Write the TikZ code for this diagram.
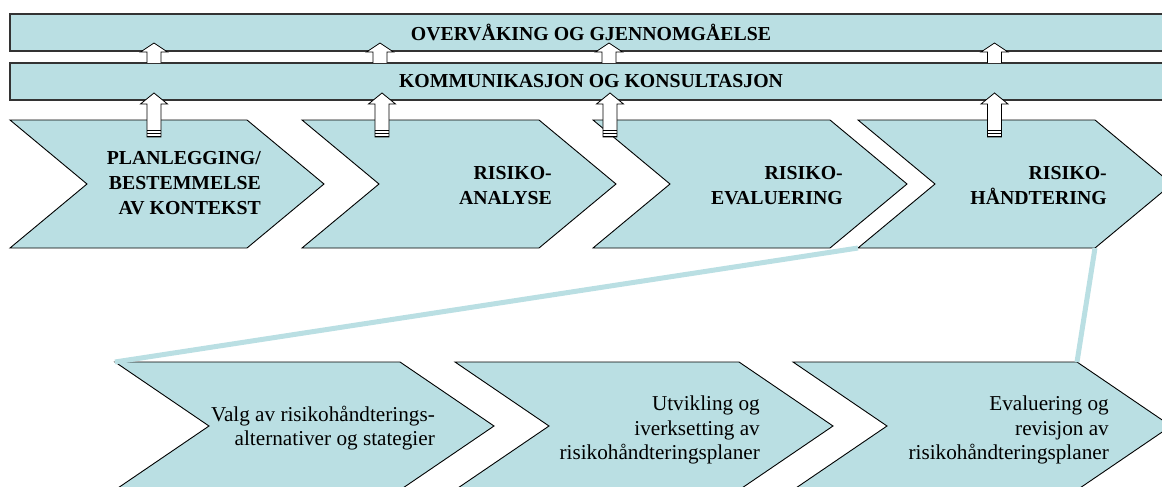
\documentclass[tikz,border=0pt]{standalone}
\usepackage{fontspec}
\setmainfont{Liberation Serif}
\definecolor{panel}{RGB}{186,223,227}

% chevron: name, left x, top y, body width, point depth, half height
\newcommand\stepchevron[6]{%
  \coordinate (#1-tl) at (#2,#3);
  \coordinate (#1-tr) at ({#2+#4},#3);
  \coordinate (#1-tip) at ({#2+#4+#5},{#3+#6});
  \coordinate (#1-br) at ({#2+#4},{#3+2*#6});
  \coordinate (#1-bl) at (#2,{#3+2*#6});
  \coordinate (#1-notch) at ({#2+#5},{#3+#6});
  \path[chevronshape] (#1-tl) -- (#1-tr) -- (#1-tip) -- (#1-br) -- (#1-bl) -- (#1-notch) -- cycle;
}
% small block arrow between the two bars, centred at x
\newcommand\baruparrow[1]{%
  \path[blockarrow] (#1-7,63) -- (#1-7,52) -- (#1-13.5,52) -- (#1,43)
    -- (#1+13.5,52) -- (#1+7,52) -- (#1+7,63);
}
% large block arrow from a step up to the lower bar, centred at x
\newcommand\stepuparrow[1]{%
  \path[blockarrow] (#1-7,137) -- (#1-7,104) -- (#1-13.5,104) -- (#1,93)
    -- (#1+13.5,104) -- (#1+7,104) -- (#1+7,137) -- cycle;
  \draw[line width=0.7pt] (#1-7,130.5) -- (#1+7,130.5);
  \draw[line width=1.3pt] (#1-7,133.6) -- (#1+7,133.6);
  \draw[line width=1.3pt] (#1-7,136.4) -- (#1+7,136.4);
}

\begin{document}
\begin{tikzpicture}[x=1pt,y=-1pt,
  chevronshape/.style={fill=panel, draw=black, line width=0.9pt, line join=miter},
  bar/.style={fill=panel, draw=black!80, line width=1.3pt, inner sep=0pt,
    font=\bfseries\fontsize{19.8}{23}\selectfont},
  steplabel/.style={font=\bfseries\fontsize{19.8}{25}\selectfont, align=right,
    inner sep=0pt, anchor=east},
  sublabel/.style={font=\fontsize{21.2}{24.5}\selectfont, align=right,
    inner sep=0pt, anchor=east},
  link/.style={draw=panel, line width=5pt},
  blockarrow/.style={fill=white, draw=black, line width=0.8pt, line join=miter}]
\useasboundingbox (0,0) rectangle (1162,487);
\clip (0,0) rectangle (1162,487);

% the two overarching bars
\node[bar, minimum width=1162pt, minimum height=37pt] (monitor) at (591,32.5)
  {OVERVÅKING OG GJENNOMGÅELSE};
\node[bar, minimum width=1162pt, minimum height=37pt] (consult) at (591,81.5)
  {KOMMUNIKASJON OG KONSULTASJON};

% main process steps
\stepchevron{plan}{10}{120}{237}{77}{64}
\stepchevron{analyse}{302}{120}{237}{77}{64}
\stepchevron{evaluate}{593}{120}{237}{77}{64}
\stepchevron{treat}{858}{120}{237}{77}{64}

\node[steplabel] (plan-text) at (261,183) {PLANLEGGING/\\BESTEMMELSE\\AV KONTEKST};
\node[steplabel] (analyse-text) at (552,186) {RISIKO-\\ANALYSE};
\node[steplabel] (evaluate-text) at (843,186) {RISIKO-\\EVALUERING};
\node[steplabel] (treat-text) at (1107,186) {RISIKO-\\HÅNDTERING};

% arrows up into the bars
\baruparrow{154}
\baruparrow{380}
\baruparrow{609}
\baruparrow{994.5}
\stepuparrow{154}
\stepuparrow{382}
\stepuparrow{610}
\stepuparrow{994.5}

% detail of risk treatment
\stepchevron{choose}{115}{362}{285}{94}{64}
\stepchevron{implement}{455}{362}{284}{94}{64}
\stepchevron{review}{793}{362}{284}{94}{64}

\node[sublabel] (choose-text) at (435,428)
  {Valg av risikohåndterings-\\alternativer og stategier};
\node[sublabel] (implement-text) at (760,430)
  {Utvikling og\\iverksetting av\\risikohåndteringsplaner};
\node[sublabel] (review-text) at (1109,430)
  {Evaluering og\\revisjon av\hspace*{9pt}\\risikohåndteringsplaner};

% zoom lines from the treatment step to its detail
\draw[link] (treat-bl) -- (choose-tl);
\draw[link] (treat-br) -- (review-tr);
\end{tikzpicture}
\end{document}
